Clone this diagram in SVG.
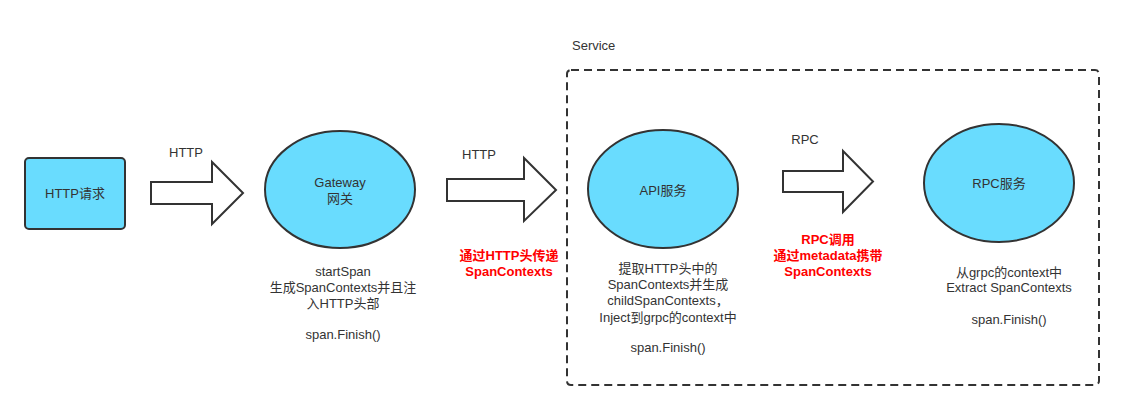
<svg xmlns="http://www.w3.org/2000/svg" width="1124" height="410" viewBox="0 0 1124 410">
<style>
.node{fill:#69dcfe;stroke:#333333;stroke-width:2}
.arrow{fill:#ffffff;stroke:#333333;stroke-width:2;stroke-linejoin:miter}
.t{font-family:"Liberation Sans","Noto Sans CJK SC",sans-serif;font-size:13px;fill:#333333;text-anchor:middle}
.r{font-family:"Liberation Sans","Noto Sans CJK SC",sans-serif;font-size:13px;font-weight:bold;fill:#ff0000;text-anchor:middle}
.box{fill:none;stroke:#333333;stroke-width:2;stroke-dasharray:8 5}
</style>
<rect width="1124" height="410" fill="#ffffff"/>
<g id="service">
<rect class="box" x="567" y="70" width="532" height="315" rx="4"/>
<text class="t" x="572" y="50" style="text-anchor:start">Service</text>
</g>
<g id="http-request">
<rect class="node" x="25" y="158" width="100" height="71" rx="4"/>
<text class="t" x="75" y="197.5">HTTP请求</text>
</g>
<g id="gateway">
<ellipse class="node" cx="340" cy="189.5" rx="75" ry="58.5"/>
<text class="t" x="340" y="186.5">Gateway</text>
<text class="t" x="340" y="202.5">网关</text>
<text class="t" x="343" y="275.5">startSpan</text>
<text class="t" x="343" y="291.5">生成SpanContexts并且注</text>
<text class="t" x="343" y="307.5">入HTTP头部</text>
<text class="t" x="343" y="338.5">span.Finish()</text>
</g>
<g id="api">
<ellipse class="node" cx="663" cy="189" rx="75" ry="59"/>
<text class="t" x="663" y="195">API服务</text>
<text class="t" x="668" y="272.5">提取HTTP头中的</text>
<text class="t" x="668" y="289">SpanContexts并生成</text>
<text class="t" x="668" y="305">childSpanContexts，</text>
<text class="t" x="668" y="321.5">Inject到grpc的context中</text>
<text class="t" x="668" y="352">span.Finish()</text>
</g>
<g id="rpc">
<ellipse class="node" cx="999" cy="183" rx="75" ry="59"/>
<text class="t" x="999" y="187.5">RPC服务</text>
<text class="t" x="1009" y="276.5">从grpc的context中</text>
<text class="t" x="1009" y="291.5">Extract SpanContexts</text>
<text class="t" x="1009" y="323.5">span.Finish()</text>
</g>
<g id="connectors">
<polygon class="arrow" points="151,182 212,182 212,162 243,193 212,224 212,204 151,204"/>
<text class="t" x="186" y="156.5">HTTP</text>
<polygon class="arrow" points="447,179 524,179 524,158 556,190 524,221 524,201 447,201"/>
<text class="t" x="479" y="158.5">HTTP</text>
<text class="r" x="509" y="259.5">通过HTTP头传递</text>
<text class="r" x="509" y="275.5">SpanContexts</text>
<polygon class="arrow" points="783,171 843,171 843,151 873,181.5 843,212 843,192 783,192"/>
<text class="t" x="805" y="143.5">RPC</text>
<text class="r" x="828" y="243.5">RPC调用</text>
<text class="r" x="828" y="260">通过metadata携带</text>
<text class="r" x="828" y="276">SpanContexts</text>
</g>
</svg>
